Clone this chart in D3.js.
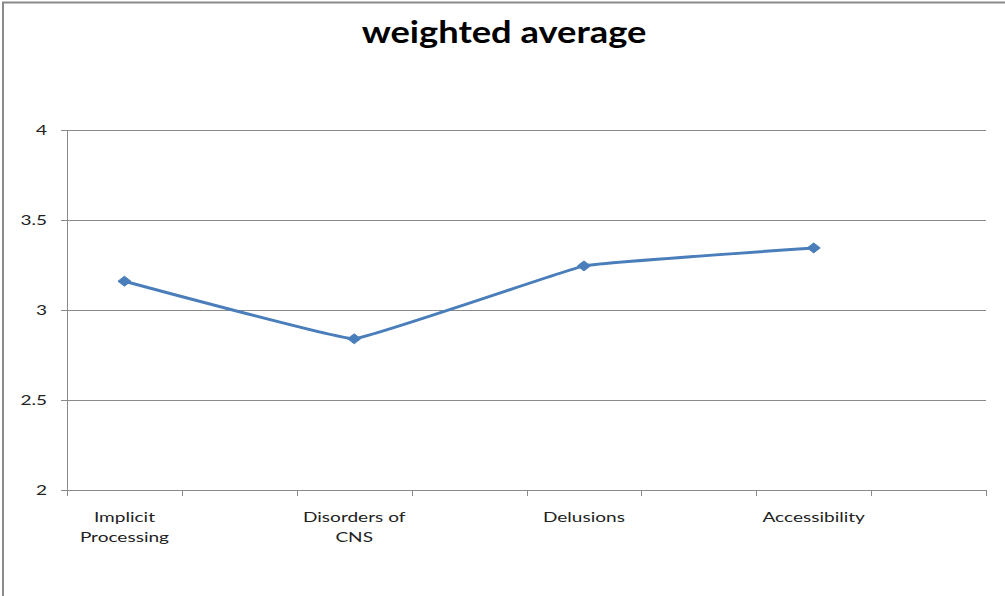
<!DOCTYPE html>
<html>
<head>
<meta charset="utf-8">
<script src="https://cdn.jsdelivr.net/npm/d3@7"></script>
<style>
  html, body { margin: 0; padding: 0; background: #fff; }
  svg { display: block; }
  text { font-family: Lato, "Open Sans", "Liberation Sans", sans-serif; fill: #222; }
</style>
</head>
<body>
<svg id="chart" width="1005" height="596"></svg>
<script>
// Chart data
const categories = ["Implicit Processing", "Disorders of CNS", "Delusions", "Accessibility"];
const labelLines = [["Implicit", "Processing"], ["Disorders of", "CNS"], ["Delusions"], ["Accessibility"]];
const weightedAverage = [3.16, 2.84, 3.245, 3.345];
const yTicks = [2, 2.5, 3, 3.5, 4];
const chartTitle = "weighted average";

const svg = d3.select("#chart");
const W = 1005, H = 596;
const plot = { left: 67, right: 986, top: 130, bottom: 490 };
const stretch = 1.36;   // wide letterforms

// Outer chart frame (runs past the window on the right and bottom)
svg.append("rect")
  .attr("x", 3).attr("y", 2.5)
  .attr("width", W + 20).attr("height", H + 20)
  .attr("fill", "none")
  .attr("stroke", "#8a8a8a")
  .attr("stroke-width", 2);

// Scales
const x = d3.scalePoint()
  .domain(categories)
  .range([plot.left, plot.right])
  .padding(0.5)
  .align(0.25);

const y = d3.scaleLinear()
  .domain([2, 4])
  .range([plot.bottom, plot.top]);

const step = x.step();

// Horizontal gridlines + y axis ticks
const yAxis = d3.axisLeft(y)
  .tickValues(yTicks)
  .tickSize(-(plot.right - plot.left))
  .tickSizeOuter(0)
  .tickFormat(d3.format("~g"));

const gY = svg.append("g")
  .attr("transform", `translate(${plot.left},0)`)
  .call(yAxis);
gY.select(".domain").remove();
gY.selectAll(".tick line")
  .attr("x1", -6)
  .attr("stroke", "#8a8a8a")
  .attr("stroke-width", 1);
gY.selectAll(".tick text")
  .attr("x", 0)
  .attr("dy", null)
  .attr("y", 4)
  .attr("transform", `translate(-20,0) scale(${stretch},1)`)
  .style("font-size", "14px")
  .style("fill", "#222");

// Vertical axis line
svg.append("line")
  .attr("x1", plot.left + 0.5).attr("x2", plot.left + 0.5)
  .attr("y1", plot.top).attr("y2", plot.bottom)
  .attr("stroke", "#8a8a8a");

// Horizontal axis line with tick marks every half category
svg.append("line")
  .attr("x1", plot.left).attr("x2", plot.right)
  .attr("y1", y(2) + 0.5).attr("y2", y(2) + 0.5)
  .attr("stroke", "#8a8a8a");

const first = x(categories[0]) - step / 4;
const tickXs = d3.range(categories.length * 2 + 1).map(i => first + i * step / 2);
svg.append("g").selectAll("line")
  .data(tickXs)
  .join("line")
  .attr("x1", d => Math.round(d) + 0.5).attr("x2", d => Math.round(d) + 0.5)
  .attr("y1", y(2)).attr("y2", y(2) + 6)
  .attr("stroke", "#8a8a8a");

// Category labels
const xl = svg.append("g");
categories.forEach((c, i) => {
  const t = xl.append("text")
    .attr("transform", `translate(${x(c)},522) scale(${stretch},1)`)
    .attr("text-anchor", "middle")
    .style("font-size", "14px");
  labelLines[i].forEach((ln, j) => {
    t.append("tspan")
      .attr("x", 0)
      .attr("dy", j === 0 ? 0 : 20)
      .text(ln);
  });
});

// Series line
const pts = categories.map((c, i) => [x(c), y(weightedAverage[i])]);
svg.append("path")
  .datum(pts)
  .attr("fill", "none")
  .attr("stroke", "#4a7ebb")
  .attr("stroke-width", 3)
  .attr("stroke-linejoin", "round")
  .attr("d", d3.line().curve(d3.curveCardinal.tension(0.8)));

// Diamond markers
svg.append("g").selectAll("path")
  .data(pts)
  .join("path")
  .attr("transform", d => `translate(${d[0]},${d[1]})`)
  .attr("d", "M0,-5L6.5,0L0,5L-6.5,0Z")
  .attr("fill", "#4a7ebb")
  .attr("stroke", "#4a7ebb")
  .attr("stroke-width", 1);

// Title
svg.append("text")
  .attr("transform", `translate(504,43) scale(1.21,1)`)
  .attr("text-anchor", "middle")
  .style("font-size", "30px")
  .style("font-weight", "bold")
  .style("fill", "#000")
  .text(chartTitle);
</script>
</body>
</html>
